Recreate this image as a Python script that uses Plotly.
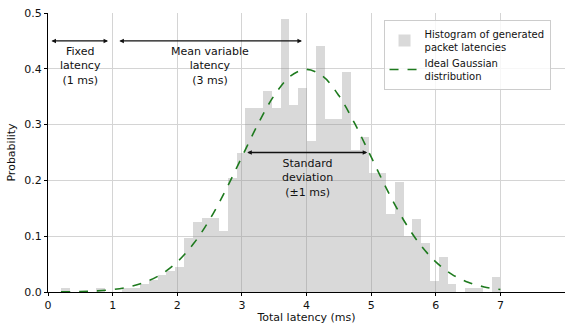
import plotly.graph_objects as go

# ---- data ----
bin_start = 0.2
bin_width = 0.136
hist_density = [
    0.007, 0.0, 0.0, 0.0, 0.007, 0.0, 0.0, 0.007, 0.007, 0.015,
    0.022, 0.030, 0.037, 0.044, 0.096, 0.125, 0.132, 0.132, 0.110, 0.205,
    0.250, 0.330, 0.330, 0.360, 0.330, 0.490, 0.335, 0.365, 0.270, 0.440,
    0.310, 0.310, 0.395, 0.255, 0.278, 0.213, 0.213, 0.140, 0.197, 0.100,
    0.130, 0.088, 0.020, 0.063, 0.015, 0.0, 0.007, 0.007, 0.0, 0.027,
]
curve_x = [0.2, 0.5, 0.75, 1.0, 1.25, 1.5, 1.75, 2.0, 2.25, 2.5, 2.75, 3.0, 3.25, 3.5, 3.75, 4.0,
           4.25, 4.5, 4.75, 5.0, 5.25, 5.5, 5.75, 6.0, 6.25, 6.5, 6.75, 7.0]
curve_y = [0.0003, 0.0009, 0.0020, 0.0044, 0.0091, 0.0175, 0.0317, 0.0540, 0.0863, 0.1295,
           0.1826, 0.2420, 0.3011, 0.3521, 0.3867, 0.3989,
           0.3867, 0.3521, 0.3011, 0.2420, 0.1826, 0.1295, 0.0863, 0.0540, 0.0317, 0.0175,
           0.0091, 0.0044]
x_ticks = [0, 1, 2, 3, 4, 5, 6, 7, 8]
y_ticks = [0.0, 0.1, 0.2, 0.3, 0.4, 0.5]
y_tick_labels = ["0.0", "0.1", "0.2", "0.3", "0.4", "0.5"]

# annotation spans: (start, end, y)
spans = [(0.03, 0.93, 0.45), (1.08, 3.93, 0.45), (3.06, 4.94, 0.25)]
labels = [("Fixed<br>latency<br>(1 ms)", 0.5, 0.405),
          ("Mean variable<br>latency<br>(3 ms)", 2.5, 0.405),
          ("Standard<br>deviation<br>(±1 ms)", 4.02, 0.204)]

centers = [bin_start + bin_width * (i + 0.5) for i in range(len(hist_density))]

FONT = "DejaVu Sans"
fig = go.Figure()
fig.add_trace(go.Bar(
    x=centers, y=hist_density, width=bin_width,
    marker=dict(color="rgba(140,140,140,0.33)", line=dict(width=0)),
    name="Histogram of generated<br>packet latencies",
))
fig.add_trace(go.Scatter(
    x=curve_x, y=curve_y, mode="lines", line_shape="spline",
    line=dict(color="#1e7a1e", width=1.6, dash="dash"),
    name="Ideal Gaussian<br>distribution",
))

annotations = []
for (a, b, y) in spans:
    annotations.append(dict(
        x=b, y=y, ax=a, ay=y, xref="x", yref="y", axref="x", ayref="y",
        text="", showarrow=True, arrowhead=2, arrowsize=0.7, arrowwidth=1.3,
        arrowcolor="#111111", arrowside="end+start", startarrowhead=2, startarrowsize=0.7,
    ))
for (t, x, y) in labels:
    annotations.append(dict(
        x=x, y=y, xref="x", yref="y", text=t, showarrow=False,
        font=dict(family=FONT, size=11, color="#111111"), align="center",
        xanchor="center", yanchor="middle",
    ))

fig.update_layout(
    width=565, height=324,
    margin=dict(l=48, r=0, t=13, b=32),
    paper_bgcolor="white", plot_bgcolor="white",
    bargap=0, showlegend=True,
    font=dict(family=FONT, size=11, color="#111111"),
    legend=dict(
        x=0.649, y=0.975, xanchor="left", yanchor="top",
        bgcolor="rgba(255,255,255,0.8)", bordercolor="#cccccc", borderwidth=1,
        font=dict(family=FONT, size=10, color="#111111"),
        tracegroupgap=2,
    ),
    annotations=annotations,
)
fig.update_xaxes(
    range=[0, 8], tickvals=x_ticks, ticktext=[str(v) for v in x_ticks],
    showgrid=True, gridcolor="#d4d4d4", gridwidth=1,
    showline=True, linecolor="black", linewidth=1.3,
    ticks="outside", ticklen=3, tickcolor="black",
    zeroline=False, layer="above traces",
    title=dict(text="Total latency (ms)", standoff=4, font=dict(family=FONT, size=11)),
)
fig.update_yaxes(
    range=[0, 0.5], tickvals=y_ticks, ticktext=y_tick_labels,
    showgrid=True, gridcolor="#d4d4d4", gridwidth=1,
    showline=True, linecolor="black", linewidth=1.3,
    ticks="outside", ticklen=3, tickcolor="black",
    zeroline=False, layer="above traces",
    title=dict(text="Probability", standoff=6, font=dict(family=FONT, size=11)),
)
fig.write_html("out.html")
